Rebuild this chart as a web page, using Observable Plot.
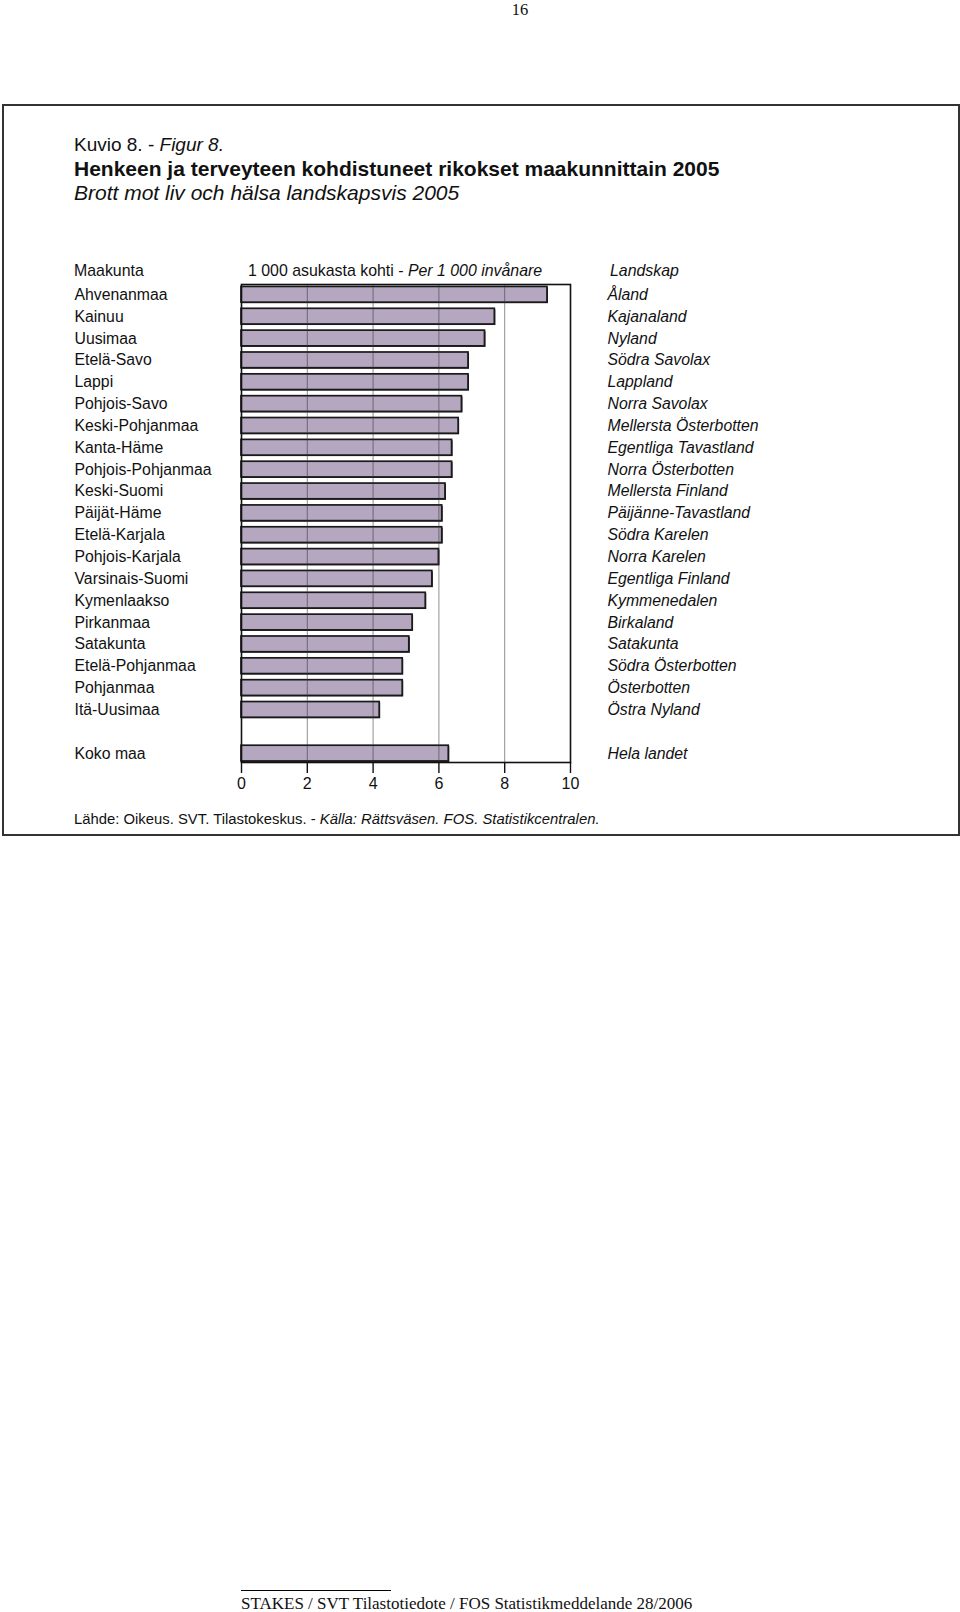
<!DOCTYPE html>
<html>
<head>
<meta charset="utf-8">
<script src="https://cdn.jsdelivr.net/npm/d3@7"></script>
<script src="https://cdn.jsdelivr.net/npm/@observablehq/plot@0.6"></script>
<style>
  html, body { margin: 0; padding: 0; background: #fff; }
  #page { position: relative; width: 960px; height: 1612px; overflow: hidden; font-family: "Liberation Sans", Arial, sans-serif; color: #111; }
  .t { position: absolute; white-space: nowrap; line-height: 1; }
  .serif { font-family: "Liberation Serif", "Times New Roman", serif; }
  #box { position: absolute; left: 2px; top: 104px; width: 954px; height: 728px; border: 2px solid #333; }
  #chart { position: absolute; left: 0; top: 281px; }
  #fline { position: absolute; left: 241px; top: 1590px; width: 150px; height: 0; border-top: 1px solid #000; }
</style>
</head>
<body>
<div id="page">
  <div class="t serif" style="left:470px;width:100px;text-align:center;top:1px;line-height:1.1;font-size:16.5px;">16</div>
  <div id="box"></div>
  <div class="t" style="left:74px;top:135px;font-size:19px;">Kuvio 8. - <i>Figur 8.</i></div>
  <div class="t" style="left:74px;top:158px;font-size:21px;font-weight:bold;">Henkeen ja terveyteen kohdistuneet rikokset maakunnittain 2005</div>
  <div class="t" style="left:74px;top:182px;font-size:21px;font-style:italic;">Brott mot liv och hälsa landskapsvis 2005</div>
  <div class="t" style="left:74px;top:263px;font-size:15.9px;">Maakunta</div>
  <div class="t" style="left:248px;top:263px;font-size:15.9px;">1 000 asukasta kohti - <i>Per 1 000 invånare</i></div>
  <div class="t" style="left:610px;top:263px;font-size:15.9px;font-style:italic;">Landskap</div>
  <div id="chart"></div>
  <div class="t" style="left:74px;top:812px;font-size:14.85px;">Lähde: Oikeus. SVT. Tilastokeskus. - <i>Källa: Rättsväsen. FOS. Statistikcentralen.</i></div>
  <div id="fline"></div>
  <div class="t serif" style="left:241px;top:1595px;font-size:17px;">STAKES / SVT Tilastotiedote / FOS Statistikmeddelande 28/2006</div>
</div>
<script>
// Data
const regions = ["Ahvenanmaa","Kainuu","Uusimaa","Etelä-Savo","Lappi","Pohjois-Savo","Keski-Pohjanmaa","Kanta-Häme","Pohjois-Pohjanmaa","Keski-Suomi","Päijät-Häme","Etelä-Karjala","Pohjois-Karjala","Varsinais-Suomi","Kymenlaakso","Pirkanmaa","Satakunta","Etelä-Pohjanmaa","Pohjanmaa","Itä-Uusimaa"];
const regionsSv = ["Åland","Kajanaland","Nyland","Södra Savolax","Lappland","Norra Savolax","Mellersta Österbotten","Egentliga Tavastland","Norra Österbotten","Mellersta Finland","Päijänne-Tavastland","Södra Karelen","Norra Karelen","Egentliga Finland","Kymmenedalen","Birkaland","Satakunta","Södra Österbotten","Österbotten","Östra Nyland"];
const values = [9.3,7.7,7.4,6.9,6.9,6.7,6.6,6.4,6.4,6.2,6.1,6.1,6.0,5.8,5.6,5.2,5.1,4.9,4.9,4.2];
const totalName = "Koko maa";
const totalNameSv = "Hela landet";
const totalValue = 6.3;
const xTicks = [0, 2, 4, 6, 8, 10];
const gridLines = [2, 4, 6, 8];
const spacer = " ";

const rows = regions.map((r, i) => ({name: r, sv: regionsSv[i], value: values[i]}));
rows.push({name: totalName, sv: totalNameSv, value: totalValue});
const domain = [...regions, spacer, totalName];
const svMap = new Map(rows.map(d => [d.name, d.sv]));

const chart = Plot.plot({
  width: 960,
  height: 511,
  marginTop: 3,
  marginBottom: 30,
  marginLeft: 241,
  marginRight: 390,
  style: {fontFamily: '"Liberation Sans", Arial, sans-serif', fontSize: "15.8px", color: "#111", background: "transparent"},
  x: {domain: [0, 10], ticks: xTicks},
  y: {domain, paddingInner: 0.28, paddingOuter: 0.08, align: 0.7, round: false},
  marks: [
    Plot.barX(rows, {y: "name", x: "value", dx: 1, dy: 1, fill: "#222"}),
    Plot.barX(rows, {y: "name", x: "value", fill: "#b5a7bf", stroke: "#1a1a1a", strokeWidth: 1.7}),
    Plot.ruleX(gridLines, {stroke: "#333", strokeOpacity: 0.55, strokeWidth: 1}),
    Plot.frame({stroke: "#111", strokeWidth: 1.6}),
    Plot.axisX({ticks: xTicks, tickSize: 11, tickPadding: 4, label: null, fontSize: 16, stroke: "#111", strokeWidth: 1.4}),
    Plot.axisY({anchor: "left", tickSize: 0, tickPadding: 0, textAnchor: "start", dx: -167, label: null, fontSize: 15.8,
      tickFormat: d => d === spacer ? "" : d}),
    Plot.axisY({anchor: "right", tickSize: 0, tickPadding: 0, textAnchor: "start", dx: 37, label: null, fontSize: 15.8, fontStyle: "italic",
      tickFormat: d => d === spacer ? "" : svMap.get(d)})
  ]
});
document.getElementById("chart").appendChild(chart);
</script>
</body>
</html>
